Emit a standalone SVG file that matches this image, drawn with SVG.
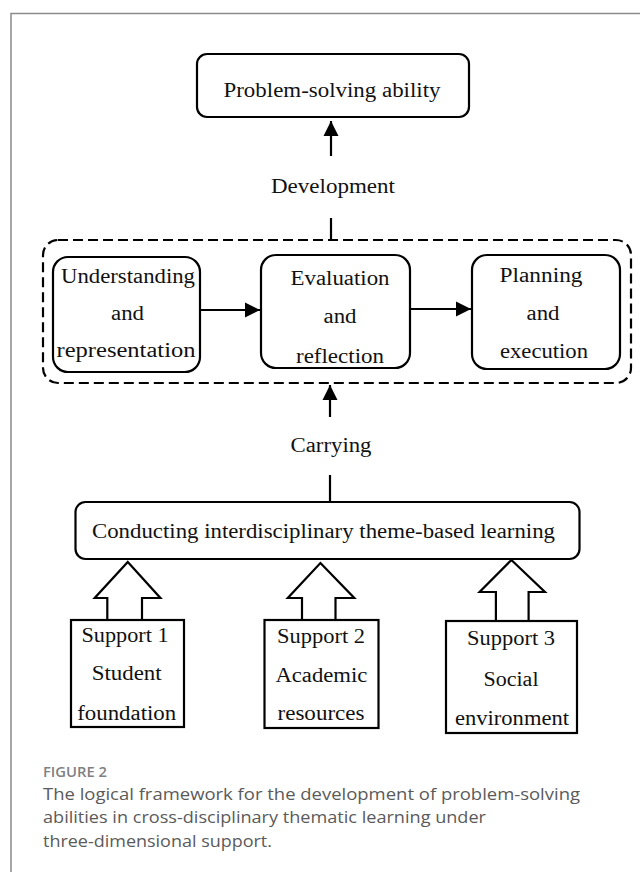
<svg xmlns="http://www.w3.org/2000/svg" width="640" height="872" viewBox="0 0 640 872">
<style>
.frame{fill:none;stroke:#8a8a8a;stroke-width:1.5}
.box{fill:#fff;stroke:#000;stroke-width:2.2}
.t{font-family:"Liberation Serif","Times New Roman",serif;font-size:20px;fill:#111;text-anchor:middle}
.ln{fill:none;stroke:#000;stroke-width:2.2}
.dash{fill:none;stroke:#000;stroke-width:2.2;stroke-dasharray:10 5}
.blk{fill:#fff;stroke:#000;stroke-width:2.2;stroke-linejoin:miter}
.cap{font-family:"Open Sans","Noto Sans",sans-serif;fill:#5a5a5a;font-size:16.5px}
</style>
<defs>
<marker id="ah" viewBox="0 0 10 10" refX="10" refY="5" markerWidth="7" markerHeight="7" markerUnits="strokeWidth" orient="auto">
<path d="M0,0 L10,5 L0,10 z" fill="#000"/>
</marker>
</defs>
<rect width="640" height="872" fill="#fff"/>
<path class="frame" d="M11,872 V13.5 H640"/>

<g id="connectors">
<line class="ln" x1="331" y1="156" x2="331" y2="121" marker-end="url(#ah)"/>
<line class="ln" x1="331" y1="218" x2="331" y2="240"/>
<line class="ln" x1="200" y1="310" x2="260" y2="310" marker-end="url(#ah)"/>
<line class="ln" x1="410" y1="309" x2="471" y2="309" marker-end="url(#ah)"/>
<line class="ln" x1="330" y1="417" x2="330" y2="385" marker-end="url(#ah)"/>
<line class="ln" x1="330" y1="475" x2="330" y2="502"/>
<text class="t" x="333" y="193" textLength="124" lengthAdjust="spacingAndGlyphs">Development</text>
<text class="t" x="331" y="452" textLength="81" lengthAdjust="spacingAndGlyphs">Carrying</text>
</g>

<g id="problem-solving">
<rect class="box" x="197" y="54" width="272" height="63" rx="10"/>
<text class="t" x="332" y="97" textLength="217" lengthAdjust="spacingAndGlyphs">Problem-solving ability</text>
</g>

<g id="process-group">
<rect class="dash" x="43" y="240" width="588" height="143" rx="15"/>
</g>

<g id="understanding">
<rect class="box" x="53" y="257" width="147" height="115" rx="15"/>
<text class="t" x="128" y="283" textLength="134" lengthAdjust="spacingAndGlyphs">Understanding</text>
<text class="t" x="127.5" y="320" textLength="33" lengthAdjust="spacingAndGlyphs">and</text>
<text class="t" x="126" y="357" textLength="139" lengthAdjust="spacingAndGlyphs">representation</text>
</g>

<g id="evaluation">
<rect class="box" x="261" y="255" width="149" height="113" rx="15"/>
<text class="t" x="340" y="285" textLength="99" lengthAdjust="spacingAndGlyphs">Evaluation</text>
<text class="t" x="340" y="323" textLength="33" lengthAdjust="spacingAndGlyphs">and</text>
<text class="t" x="340" y="363" textLength="88" lengthAdjust="spacingAndGlyphs">reflection</text>
</g>

<g id="planning">
<rect class="box" x="472" y="255" width="148" height="114" rx="15"/>
<text class="t" x="541" y="282" textLength="83" lengthAdjust="spacingAndGlyphs">Planning</text>
<text class="t" x="543" y="320" textLength="33" lengthAdjust="spacingAndGlyphs">and</text>
<text class="t" x="544" y="358" textLength="88" lengthAdjust="spacingAndGlyphs">execution</text>
</g>

<g id="conducting">
<rect class="box" x="75.5" y="502" width="504" height="57" rx="10"/>
<text class="t" x="323.5" y="538" textLength="463" lengthAdjust="spacingAndGlyphs">Conducting interdisciplinary theme-based learning</text>
</g>

<g id="support1">
<path class="blk" d="M127.8,562 L160.4,598 L142,598 L142,620 L107.3,620 L107.3,598 L94.7,598 Z"/>
<rect class="box" x="71" y="620" width="113" height="107"/>
<text class="t" x="125" y="642" textLength="87" lengthAdjust="spacingAndGlyphs">Support 1</text>
<text class="t" x="126.7" y="680" textLength="70" lengthAdjust="spacingAndGlyphs">Student</text>
<text class="t" x="126.7" y="720" textLength="99" lengthAdjust="spacingAndGlyphs">foundation</text>
</g>

<g id="support2">
<path class="blk" d="M320.4,563 L354.3,598 L335.5,598 L335.5,620 L302,620 L302,598 L287.8,598 Z"/>
<rect class="box" x="264.5" y="620" width="114" height="108"/>
<text class="t" x="321" y="643" textLength="88" lengthAdjust="spacingAndGlyphs">Support 2</text>
<text class="t" x="321.4" y="682" textLength="92" lengthAdjust="spacingAndGlyphs">Academic</text>
<text class="t" x="321" y="720" textLength="87" lengthAdjust="spacingAndGlyphs">resources</text>
</g>

<g id="support3">
<path class="blk" d="M511.4,560 L544.9,592 L528.6,592 L528.6,621 L495.9,621 L495.9,592 L479.6,592 Z"/>
<rect class="box" x="446" y="621" width="131" height="112"/>
<text class="t" x="511" y="645" textLength="88" lengthAdjust="spacingAndGlyphs">Support 3</text>
<text class="t" x="511" y="686" textLength="55" lengthAdjust="spacingAndGlyphs">Social</text>
<text class="t" x="512" y="725" textLength="114" lengthAdjust="spacingAndGlyphs">environment</text>
</g>

<g id="caption">
<text class="cap" x="43" y="777" style="font-size:13.5px;fill:#808080;font-weight:600" textLength="64" lengthAdjust="spacingAndGlyphs">FIGURE 2</text>
<text class="cap" x="43" y="800" textLength="537" lengthAdjust="spacingAndGlyphs">The logical framework for the development of problem-solving</text>
<text class="cap" x="43" y="823" textLength="443" lengthAdjust="spacingAndGlyphs">abilities in cross-disciplinary thematic learning under</text>
<text class="cap" x="43" y="847" textLength="229" lengthAdjust="spacingAndGlyphs">three-dimensional support.</text>
</g>
</svg>
